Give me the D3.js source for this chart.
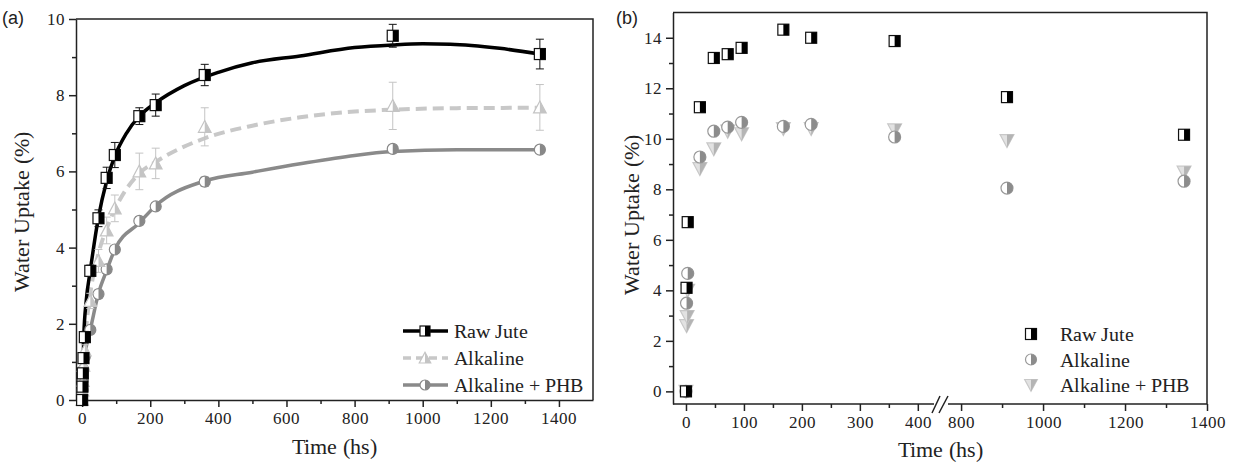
<!DOCTYPE html>
<html>
<head>
<meta charset="utf-8">
<script src="https://cdn.jsdelivr.net/npm/d3@7"></script>
<style>
@font-face{font-family:'ChartSerif';src:local('Liberation Serif'),local('LiberationSerif'),local('Liberation Serif Regular'),local('LiberationSerif-Regular');}
svg text{font-family:'ChartSerif','Liberation Serif','Times New Roman',serif}
svg text.sans{font-family:'Liberation Sans',Arial,sans-serif}
</style>
</head>
<body style="margin:0">
<svg id="chart" width="1235" height="465" font-family="Liberation Serif"></svg>
<script>
// panel (a) data, time in hs, water uptake in %
var aTime = [0, 1, 2, 4, 8, 24, 48, 72, 96, 168, 216, 360, 912, 1344]
var aRaw  = [0, 0.35, 0.7, 1.1, 1.65, 3.39, 4.77, 5.83, 6.43, 7.45, 7.74, 8.53, 9.56, 9.08]
var aRawErr = [0.05, 0.08, 0.1, 0.12, 0.15, 0.15, 0.22, 0.28, 0.33, 0.22, 0.29, 0.28, 0.3, 0.39]
var aAlk  = [0, 0.25, 0.5, 0.9, 1.3, 2.6, 3.65, 4.45, 5.03, 6.0, 6.21, 7.17, 7.72, 7.68]
var aAlkErr = [0.05, 0.08, 0.1, 0.12, 0.15, 0.2, 0.3, 0.35, 0.35, 0.48, 0.4, 0.5, 0.62, 0.6]
var aPhb  = [0, 0.26, 0.52, 0.79, 1.14, 1.84, 2.78, 3.43, 3.95, 4.7, 5.08, 5.73, 6.59, 6.57]
var aPhbErr = [0.04, 0.05, 0.05, 0.06, 0.08, 0.08, 0.1, 0.1, 0.1, 0.1, 0.1, 0.12, 0.1, 0.1]

// fitted curves
var fitRawT = [0, 5, 12, 24, 48, 72, 96, 130, 168, 216, 300, 400, 500, 640, 800, 912, 1000, 1081, 1226, 1344]
var fitRawV = [0, 1.7, 2.6, 3.4, 4.8, 5.75, 6.4, 7.0, 7.45, 7.8, 8.25, 8.6, 8.85, 9.03, 9.25, 9.32, 9.35, 9.34, 9.23, 9.08]
var fitAlkT = [0, 5, 12, 24, 48, 72, 96, 168, 216, 360, 500, 640, 800, 912, 1100, 1344]
var fitAlkV = [0, 1.1, 1.9, 2.8, 3.85, 4.5, 5.0, 5.95, 6.25, 6.87, 7.2, 7.42, 7.57, 7.62, 7.66, 7.67]
var fitPhbT = [0, 5, 12, 24, 48, 72, 96, 168, 216, 360, 500, 640, 800, 912, 1100, 1344]
var fitPhbV = [0, 0.9, 1.4, 1.85, 2.8, 3.4, 3.95, 4.65, 5.1, 5.75, 5.98, 6.2, 6.42, 6.52, 6.57, 6.57]

// panel (b) data
var bRawT = [0, 1, 3, 24, 48, 72, 96, 168, 216, 360, 912, 1344]
var bRawV = [0, 4.1, 6.7, 11.25, 13.2, 13.35, 13.6, 14.32, 14.0, 13.87, 11.65, 10.16]
var bAlkT = [0, 1, 3, 24, 48, 72, 96, 168, 216, 360, 912, 1344]
var bAlkV = [0, 3.49, 4.67, 9.28, 10.3, 10.46, 10.65, 10.49, 10.57, 10.07, 8.05, 8.32]
var bPhbT = [0, 1, 2, 3, 24, 48, 72, 96, 168, 216, 360, 912, 1344]
var bPhbV = [0, 2.6, 2.96, 4.0, 8.82, 9.6, 10.3, 10.2, 10.4, 10.4, 10.35, 9.93, 8.68]

var legendA = ['Raw Jute', 'Alkaline', 'Alkaline + PHB']
var legendB = ['Raw Jute', 'Alkaline', 'Alkaline + PHB']

var svg = d3.select('#chart')
var ink = '#222'
var fmt = d3.format('d')

// half filled markers
function marker(g, type, x, y, s, c) {
	var h = s/2
	if (type=='square') {
		g.append('rect').attr('x',x-h).attr('y',y-h).attr('width',s).attr('height',s)
			.attr('fill','#fff').attr('stroke',c.line).attr('stroke-width',1.2)
		g.append('rect').attr('x',x).attr('y',y-h).attr('width',h).attr('height',s)
			.attr('fill',c.fill)
	}
	else if (type=='circle') {
		g.append('circle').attr('cx',x).attr('cy',y).attr('r',h)
			.attr('fill','#fff').attr('stroke',c.line).attr('stroke-width',1.2)
		g.append('path').attr('d',`M ${x} ${y-h} A ${h} ${h} 0 0 1 ${x} ${y+h} Z`)
			.attr('fill',c.fill)
	}
	else if (type=='up') {
		var t = h*1.15
		g.append('path').attr('d',`M ${x} ${y-t} L ${x+t} ${y+h} L ${x-t} ${y+h} Z`)
			.attr('fill',c.light||'#fff').attr('stroke',c.line).attr('stroke-width',1.2)
		g.append('path').attr('d',`M ${x} ${y-t} L ${x+t} ${y+h} L ${x} ${y+h} Z`)
			.attr('fill',c.fill)
	}
	else {
		var t = h*1.15
		g.append('path').attr('d',`M ${x} ${y+t} L ${x+t} ${y-h} L ${x-t} ${y-h} Z`)
			.attr('fill',c.light||'#fff').attr('stroke',c.line).attr('stroke-width',1.2)
		g.append('path').attr('d',`M ${x} ${y+t} L ${x+t} ${y-h} L ${x} ${y-h} Z`)
			.attr('fill',c.fill)
	}
}

// axis helper
function axis(parent, gen, tx, ty, keepDomain) {
	var g = parent.append('g').attr('transform',`translate(${tx},${ty})`).call(gen)
	g.attr('font-family',null).attr('font-size',17)
	g.selectAll('line').attr('stroke',ink).attr('stroke-width',1.5)
	g.selectAll('text').attr('fill',ink)
	if (keepDomain) g.select('.domain').attr('stroke',ink).attr('stroke-width',1.5)
	else g.select('.domain').remove()
	return g
}

function label(parent, txt, x, y, size, rot, cls) {
	var t = parent.append('text').text(txt).attr('class',cls||null)
		.attr('font-size',size).attr('fill',ink)
	if (rot) t.attr('transform',`translate(${x},${y}) rotate(-90)`).attr('text-anchor','middle')
	else t.attr('x',x).attr('y',y)
	return t
}

var colRaw = {line:'#111', fill:'#000'}
var colAlkA = {line:'#c4c4c4', fill:'#c4c4c4'}
var colPhbA = {line:'#888', fill:'#888'}
var colAlkB = {line:'#999', fill:'#8c8c8c'}
var colPhbB = {line:'#c8c8c8', fill:'#b4b4b4', light:'#e2e2e2'}

// ---------------- panel (a)
var pa = svg.append('g').attr('id','panelA')
var xa = d3.scaleLinear().domain([-18,1500]).range([76,593])
var ya = d3.scaleLinear().domain([0,10]).range([400,19])

axis(pa, d3.axisBottom(xa).tickValues(d3.range(100,1500,200)).tickSize(4).tickSizeOuter(0).tickFormat(''), 0, 400, true)
axis(pa, d3.axisBottom(xa).tickValues(d3.range(0,1500,200)).tickSize(7).tickPadding(5).tickSizeOuter(0).tickFormat(fmt), 0, 400)
axis(pa, d3.axisLeft(ya).tickValues([1,3,5,7,9]).tickSize(4).tickSizeOuter(0).tickFormat(''), 76, 0, true)
axis(pa, d3.axisLeft(ya).tickValues([0,2,4,6,8,10]).tickSize(7).tickPadding(4).tickSizeOuter(0).tickFormat(fmt), 76, 0)
pa.append('path').attr('d',`M ${xa.range()[0]} ${ya.range()[1]} H ${xa.range()[1]} V ${ya.range()[0]}`)
	.attr('fill','none').attr('stroke',ink).attr('stroke-width',1.5)

var lineA = d3.line().x(d=>xa(d[0])).y(d=>ya(d[1])).curve(d3.curveMonotoneX)
var fits = [
	{t:fitPhbT, v:fitPhbV, color:'#8a8a8a', w:3.5, dash:null},
	{t:fitAlkT, v:fitAlkV, color:'#c8c8c8', w:4, dash:'11,6'},
	{t:fitRawT, v:fitRawV, color:'#000', w:3.5, dash:null}
]
fits.forEach((e,i,a)=>{
	pa.append('path').data([e.t.map((t,j)=>[t,e.v[j]])])
		.attr('d',lineA).attr('fill','none')
		.attr('stroke',e.color).attr('stroke-width',e.w)
		.attr('stroke-dasharray',e.dash)
})

var seriesA = [
	{v:aPhb, err:aPhbErr, type:'circle', c:colPhbA, s:11},
	{v:aAlk, err:aAlkErr, type:'up', c:colAlkA, s:11},
	{v:aRaw, err:aRawErr, type:'square', c:colRaw, s:11}
]
seriesA.forEach((se,si,sa)=>{
	var g = pa.append('g')
	se.v.forEach((v,i)=>{
		var x = xa(aTime[i])
		var y0 = ya(v-se.err[i]), y1 = ya(v+se.err[i])
		g.append('path').attr('d',`M ${x} ${y0} V ${y1} M ${x-4} ${y0} H ${x+4} M ${x-4} ${y1} H ${x+4}`)
			.attr('fill','none').attr('stroke',se.c.line).attr('stroke-width',1)
		marker(g, se.type, x, ya(v), se.s, se.c)
	})
})

// legend (a)
var legA = pa.append('g')
var legAStyle = [
	{color:'#000', w:3.5, dash:null, type:'square', c:colRaw},
	{color:'#c8c8c8', w:3.5, dash:'8,5', type:'up', c:colAlkA},
	{color:'#8a8a8a', w:3.5, dash:null, type:'circle', c:colPhbA}
]
legendA.forEach((e,i)=>{
	var y = 331 + i*27
	legA.append('path').attr('d',`M 403 ${y} H 448`)
		.attr('stroke',legAStyle[i].color).attr('stroke-width',legAStyle[i].w)
		.attr('stroke-dasharray',legAStyle[i].dash)
	marker(legA, legAStyle[i].type, 425, y, 10, legAStyle[i].c)
	label(legA, e, 454, y+7, 20)
})

label(pa, 'Time (hs)', 334, 454, 22).attr('text-anchor','middle')
label(pa, 'Water Uptake (%)', 29, 212, 22, true)
label(pa, '(a)', 2, 24, 18, false, 'sans')

// ---------------- panel (b), broken x axis
var pb = svg.append('g').attr('id','panelB')
var xb1 = d3.scaleLinear().domain([-22.4,440]).range([673,941])
var xb2 = d3.scaleLinear().domain([751,1400]).range([941,1207])
var xb = t=>(t<=440?xb1(t):xb2(t))
var yb = d3.scaleLinear().domain([-0.5,15]).range([404,12.5])

axis(pb, d3.axisBottom(xb1).tickValues([50,150,250,350]).tickSize(4).tickSizeOuter(0).tickFormat(''), 0, 404)
axis(pb, d3.axisBottom(xb1).tickValues([0,100,200,300,400]).tickSize(7).tickPadding(5).tickSizeOuter(0).tickFormat(fmt), 0, 404)
axis(pb, d3.axisBottom(xb2).tickValues([900,1100,1300]).tickSize(4).tickSizeOuter(0).tickFormat(''), 0, 404)
axis(pb, d3.axisBottom(xb2).tickValues([800,1000,1200,1400]).tickSize(7).tickPadding(5).tickSizeOuter(0).tickFormat(fmt), 0, 404)

pb.append('path').attr('d',`M 673 404 H ${xb1(440)-7} M ${xb2(751)+7} 404 H 1207`)
	.attr('stroke',ink).attr('stroke-width',1.5)
var brk = xb1(440)
pb.append('path').attr('d',`M ${brk-9} 413 L ${brk-1} 396 M ${brk-2} 413 L ${brk+7} 396`)
	.attr('stroke',ink).attr('stroke-width',1.5).attr('fill','none')

axis(pb, d3.axisLeft(yb).tickValues(d3.range(1,15,2)).tickSize(4).tickSizeOuter(0).tickFormat(''), 673, 0, true)
axis(pb, d3.axisLeft(yb).tickValues(d3.range(0,15,2)).tickSize(7).tickPadding(4).tickSizeOuter(0).tickFormat(fmt), 673, 0)
pb.append('path').attr('d',`M 673 ${yb.range()[1]} H 1207 V 404`)
	.attr('fill','none').attr('stroke',ink).attr('stroke-width',1.5)

var seriesB = [
	{t:bPhbT, v:bPhbV, type:'down', c:colPhbB, s:12},
	{t:bAlkT, v:bAlkV, type:'circle', c:colAlkB, s:12},
	{t:bRawT, v:bRawV, type:'square', c:colRaw, s:11}
]
seriesB.forEach((se,si,sa)=>{
	var g = pb.append('g')
	se.v.forEach((v,i)=>{
		marker(g, se.type, xb(se.t[i]), yb(v), se.s, se.c)
	})
})

var legB = pb.append('g')
var legBStyle = [{type:'square', c:colRaw}, {type:'circle', c:colAlkB}, {type:'down', c:colPhbB}]
legendB.forEach((e,i)=>{
	var y = 334 + i*25.5
	marker(legB, legBStyle[i].type, 1031, y, 11, legBStyle[i].c)
	label(legB, e, 1060, y+7, 20)
})

label(pb, 'Time (hs)', 940, 457, 22).attr('text-anchor','middle')
label(pb, 'Water Uptake (%)', 639, 215, 22, true)
label(pb, '(b)', 616, 24, 18, false, 'sans')
</script>
</body>
</html>
